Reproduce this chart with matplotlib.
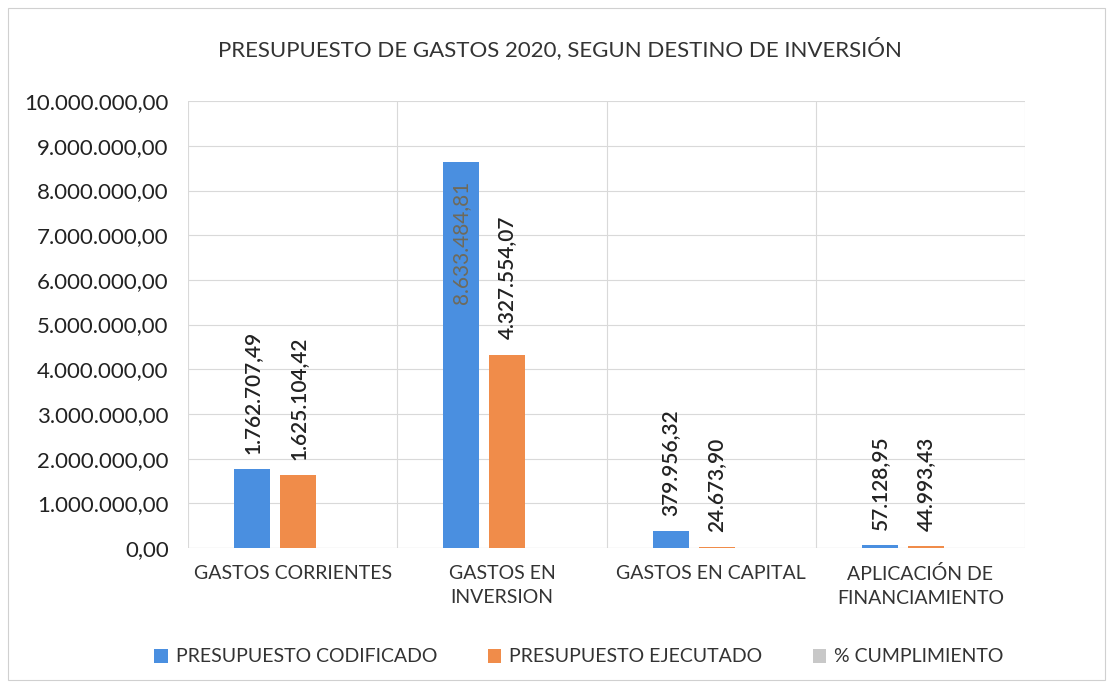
import matplotlib
matplotlib.use("Agg")
import matplotlib.pyplot as plt
from matplotlib.patches import Rectangle
from matplotlib.ticker import FuncFormatter, MultipleLocator
import numpy as np

plt.rcParams['font.family'] = ['Lato', 'DejaVu Sans']

# data
categorias = ['GASTOS CORRIENTES', 'GASTOS EN\nINVERSION', 'GASTOS EN CAPITAL',
              'APLICACIÓN DE\nFINANCIAMIENTO']
codificado = [1762707.49, 8633484.81, 379956.32, 57128.95]
ejecutado = [1625104.42, 4327554.07, 24673.90, 44993.43]
cumplimiento = [92.19, 50.13, 6.49, 78.76]  # percent, too small to see on this axis

series_names = ['PRESUPUESTO CODIFICADO', 'PRESUPUESTO EJECUTADO', '% CUMPLIMIENTO']
colores = ['#4a8fe0', '#f08c4a', '#c8c8c8']


def num_es(v):
    # 1234567.5 -> 1.234.567,50
    s = f"{v:,.2f}"
    return s.replace(',', 'X').replace('.', ',').replace('X', '.')


fig = plt.figure(figsize=(11.13, 6.88), dpi=100)
ax = fig.add_axes([0.169, 0.2035, 0.752, 0.6495])

x = np.arange(len(categorias))
w = 0.172
step = 0.22
todas = [codificado, ejecutado, cumplimiento]
for i, vals in enumerate(todas):
    pos = x + (i - 1) * step + 0.026
    bars = ax.bar(pos, vals, width=w, color=colores[i], label=series_names[i], zorder=3)
    if i == 2:
        continue
    for b, v in zip(bars, vals):
        cx = b.get_x() + b.get_width() / 2
        if v > 7500000:
            ax.annotate(num_es(v), (cx, v), xytext=(0, -13), textcoords='offset points',
                        rotation=90, ha='center', va='top', fontsize=15,
                        color='#6f6a5a', zorder=4)
        else:
            ax.annotate(num_es(v), (cx, v), xytext=(0, 11), textcoords='offset points',
                        rotation=90, ha='center', va='bottom', fontsize=15,
                        fontweight='semibold', color='#222222', zorder=4)

ax.set_ylim(0, 10000000)
ax.set_xlim(-0.5, len(categorias) - 0.5)
ax.yaxis.set_major_locator(MultipleLocator(1000000))
ax.yaxis.set_major_formatter(FuncFormatter(lambda v, p: num_es(v)))
ax.set_xticks(x)
ax.set_xticklabels(categorias, fontsize=14, color='#333333', linespacing=1.5)
ax.set_xticks(np.arange(-0.5, len(categorias)), minor=True)
ax.tick_params(axis='y', labelsize=16, colors='#222222', length=0, pad=14)
ax.tick_params(axis='x', which='both', length=0, pad=12)
ax.grid(axis='y', color='#d9d9d9', linewidth=0.8, zorder=0)
ax.grid(axis='x', which='minor', color='#d9d9d9', linewidth=0.8, zorder=0)
for s in ax.spines.values():
    s.set_visible(False)
ax.axhline(0, color='#cccccc', linewidth=0.8, zorder=2)

fig.text(0.503, 0.930, 'PRESUPUESTO DE GASTOS 2020, SEGUN DESTINO DE INVERSIÓN',
         ha='center', va='center', fontsize=16, color='#333333')

fig.legend(loc='center', bbox_to_anchor=(0.52, 1 - 657 / 688), ncol=3, frameon=False,
           fontsize=14, handlelength=0.7, handleheight=0.7, handletextpad=0.4,
           columnspacing=2.6, labelcolor='#333333')

fig.patches.append(Rectangle((8 / 1113, 8 / 688), 1097 / 1113, 672 / 688,
                             transform=fig.transFigure, fill=False,
                             edgecolor='#d0d0d0', linewidth=0.8))

fig.savefig('out.png', dpi=100)
